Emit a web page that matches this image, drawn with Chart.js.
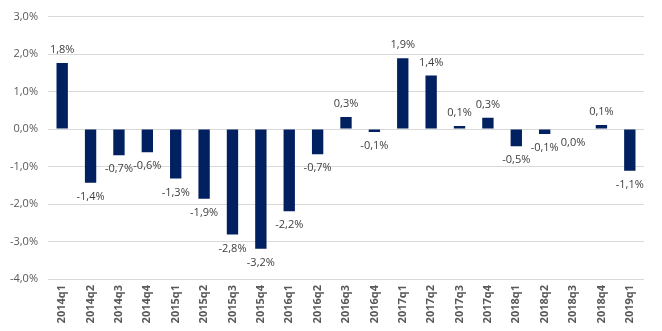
<!DOCTYPE html>
<html lang="en">
<head>
    <meta charset="UTF-8">
    <title>Quarterly change</title>
    <script src="https://cdn.jsdelivr.net/npm/chart.js"></script>
    <style>
        html, body {
            margin: 0;
            padding: 0;
            background-color: #fff;
        }
        .wrap {
            width: 662px;
            height: 331px;
        }
    </style>
</head>
<body>
    <div class="wrap">
        <canvas id="chart" width="662" height="331"></canvas>
    </div>

    <script>
        const quarters = ['2014q1', '2014q2', '2014q3', '2014q4', '2015q1', '2015q2', '2015q3',
            '2015q4', '2016q1', '2016q2', '2016q3', '2016q4', '2017q1', '2017q2', '2017q3',
            '2017q4', '2018q1', '2018q2', '2018q3', '2018q4', '2019q1'];
        const change = [1.76, -1.43, -0.70, -0.62, -1.32, -1.86, -2.81,
            -3.19, -2.19, -0.67, 0.32, -0.08, 1.89, 1.43, 0.08,
            0.30, -0.46, -0.13, 0.0, 0.11, -1.11];
        const yTicks = [3, 2, 1, 0, -1, -2, -3, -4];

        const fmt = v => {
            let s = (Math.round(v * 10) / 10).toFixed(1);
            if (s === '-0.0') s = '0.0';
            return s.replace('.', ',') + '%';
        };

        // simple value labels, above positive bars and under the others
        const valueLabels = {
            id: 'valueLabels',
            afterDatasetsDraw(chart) {
                const ctx = chart.ctx;
                const meta = chart.getDatasetMeta(0);
                ctx.save();
                ctx.font = '11px "Open Sans", sans-serif';
                ctx.fillStyle = '#404040';
                ctx.textAlign = 'center';
                ctx.textBaseline = 'middle';
                meta.data.forEach((bar, i) => {
                    const v = change[i];
                    const y = v > 0 ? bar.y - 13 : bar.y + 14;
                    ctx.fillText(fmt(v), bar.x, y);
                });
                ctx.restore();
            }
        };

        new Chart(document.getElementById('chart'), {
            type: 'bar',
            data: {
                labels: quarters,
                datasets: [{
                    data: change,
                    backgroundColor: '#002060',
                    barPercentage: 0.4,
                    categoryPercentage: 1.0
                }]
            },
            options: {
                responsive: false,
                animation: false,
                layout: {
                    padding: { left: 0, right: 18, top: 13, bottom: 0 }
                },
                plugins: {
                    legend: { display: false },
                    tooltip: { enabled: false }
                },
                scales: {
                    x: {
                        grid: { display: false, drawTicks: false },
                        border: { display: false },
                        ticks: {
                            minRotation: 90,
                            maxRotation: 90,
                            padding: 6,
                            color: '#595959',
                            font: { family: 'Open Sans', size: 11, weight: 'bold' }
                        },
                        afterFit: s => { s.height = 52; }
                    },
                    y: {
                        min: -4,
                        max: 3,
                        afterBuildTicks: s => { s.ticks = yTicks.map(v => ({ value: v })); },
                        grid: { color: '#d9d9d9', drawTicks: false },
                        border: { display: false },
                        ticks: {
                            padding: 10,
                            color: '#595959',
                            font: { family: 'Open Sans', size: 11 },
                            callback: v => v.toFixed(1).replace('.', ',') + '%'
                        },
                        afterFit: s => { s.width = 48; }
                    }
                }
            },
            plugins: [valueLabels]
        });
    </script>
</body>
</html>
